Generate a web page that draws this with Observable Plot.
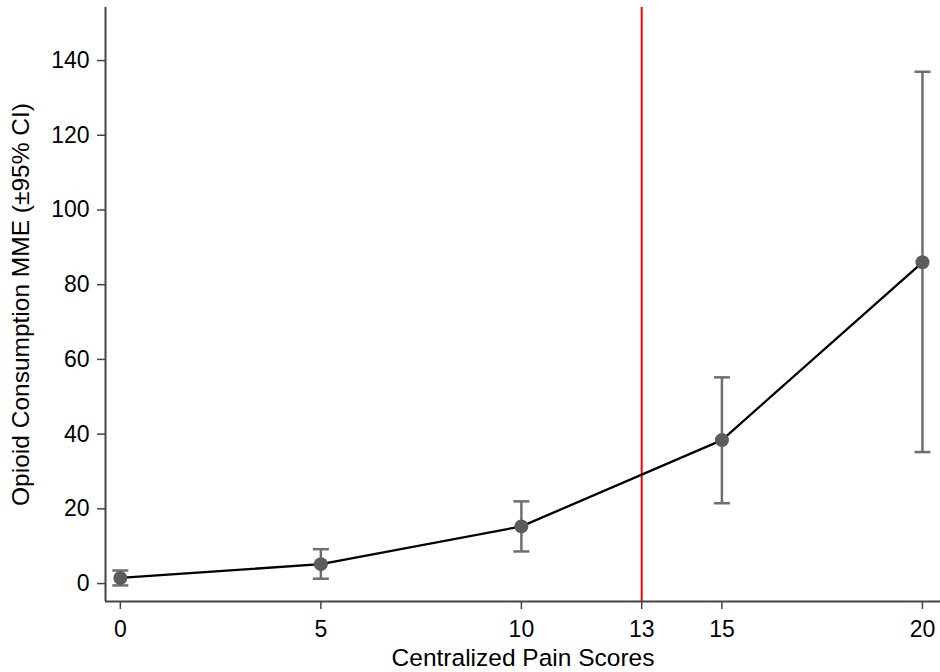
<!DOCTYPE html>
<html><head><meta charset="utf-8">
<script src="https://cdn.jsdelivr.net/npm/d3@7"></script>
<script src="https://cdn.jsdelivr.net/npm/@observablehq/plot@0.6"></script>
<style>
body{margin:0;background:#fff}
#chart svg text{font-size:23px !important;font-family:"Liberation Sans",Arial,Helvetica,sans-serif !important}
#chart svg g[aria-label="x-axis label"] text, #chart svg g[aria-label="y-axis label"] text{font-size:24.5px !important}
</style>
</head><body><div id="chart"></div>
<script>
const scores = [0, 5, 10, 15, 20];
const means  = [1.5, 5.2, 15.3, 38.4, 86.0];
const lower  = [-0.5, 1.3, 8.6, 21.5, 35.2];
const upper  = [3.5, 9.2, 22.0, 55.2, 137.0];
const cutoff = [13];
const xTicks = [0, 5, 10, 13, 15, 20];
const yTicks = [0, 20, 40, 60, 80, 100, 120, 140];
const xDomain = [-0.37, 20.45];
const yDomain = [-4.8, 154.2];

const data = scores.map((s, i) => ({x: s, m: means[i], lo: lower[i], hi: upper[i]}));
const caps = data.flatMap(d => [{x: d.x, y: d.lo}, {x: d.x, y: d.hi}]);

const capSymbol = {draw(ctx, size) { const r = Math.sqrt(size / Math.PI); ctx.moveTo(-r, 0); ctx.lineTo(r, 0); }};

const font = "Liberation Sans, Arial, Helvetica, sans-serif";
const chart = Plot.plot({
  width: 940, height: 672,
  marginLeft: 105, marginRight: 0, marginTop: 7, marginBottom: 71,
  style: {fontFamily: font, fontSize: "23px", color: "#000", background: "#fff"},
  x: {domain: xDomain},
  y: {domain: yDomain},
  marks: [
    Plot.ruleX(cutoff, {stroke: "#ff0000", strokeWidth: 2}),
    Plot.line(data, {x: "x", y: "m", stroke: "#000", strokeWidth: 2.3}),
    Plot.ruleX(data, {x: "x", y1: "lo", y2: "hi", stroke: "#6e6e6e", strokeWidth: 2.5}),
    Plot.dot(caps, {x: "x", y: "y", symbol: capSymbol, r: 8, stroke: "#6e6e6e", strokeWidth: 2.5, fill: "none"}),
    Plot.dot(data, {x: "x", y: "m", r: 7, fill: "#5c5c5c", stroke: "none"}),
    Plot.ruleX([xDomain[0]], {stroke: "#444", strokeWidth: 2}),
    Plot.ruleY([yDomain[0]], {stroke: "#444", strokeWidth: 2}),
    Plot.axisX({ticks: xTicks, tickSize: 8, tickPadding: 11, stroke: "#444", strokeWidth: 1.5, label: "Centralized Pain Scores", labelAnchor: "center", labelArrow: "none", labelOffset: 64, fill: "#000"}),
    Plot.axisY({ticks: yTicks, tickSize: 8, tickPadding: 8, stroke: "#444", strokeWidth: 1.5, label: "Opioid Consumption MME (±95% CI)", labelAnchor: "center", labelArrow: "none", labelOffset: 94, fill: "#000"})
  ]
});
document.getElementById("chart").appendChild(chart);
</script>
</body></html>
